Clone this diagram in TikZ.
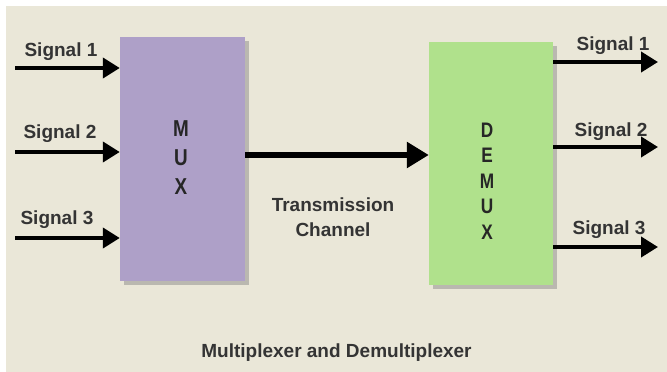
\documentclass[tikz,border=0pt]{standalone}
\usepackage{graphicx}
\usepackage{fontspec}
\setmainfont{Liberation Sans}
\usetikzlibrary{positioning,arrows.meta,shadows}
\definecolor{bgbeige}{RGB}{234,231,216}
\definecolor{muxpurple}{RGB}{174,160,200}
\definecolor{demuxgreen}{RGB}{176,225,140}
\definecolor{txtgray}{RGB}{52,52,52}
\newcommand\narrowch[1]{\scalebox{.82}[1]{#1}}

\begin{document}
\begin{tikzpicture}[x=1pt,y=-1pt,
    sig/.style={line width=4pt,-{Triangle[length=17pt,width=20pt]}},
    chan/.style={line width=6.5pt,-{Triangle[length=22pt,width=25pt]}},
    lbl/.style={font=\fontsize{19}{25}\selectfont\bfseries,text=txtgray,inner sep=0pt},
    blk/.style={minimum width=125pt,minimum height=244pt,inner sep=0pt,
      drop shadow={shadow xshift=4pt,shadow yshift=-4pt,opacity=.45}},
    letters/.style={font=\fontsize{23}{29}\selectfont\bfseries,text=black!85,align=center,inner sep=0pt}]
  % page strip and background
  \fill[white] (0,0) rectangle (667,372);
  \fill[bgbeige] (6,6) rectangle (667,372);

  % blocks
  \node[blk,fill=muxpurple] (mux) at (182.5,159) {};
  \node[blk,fill=demuxgreen,minimum width=124pt,minimum height=243pt] (demux) at (491,163.5) {};
  \node[letters] (muxtxt) at (181,158) {\narrowch{M}\\\narrowch{U}\\\narrowch{X}};
  \node[letters,font=\fontsize{21}{25.5}\selectfont\bfseries] (demuxtxt) at (487,181)
    {\narrowch{D}\\\narrowch{E}\\\narrowch{M}\\\narrowch{U}\\\narrowch{X}};

  % inputs
  \coordinate (in1) at (15,68);
  \coordinate (in2) at (15,152);
  \coordinate (in3) at (15,238);
  \draw[sig] (in1) -- (in1 -| mux.west);
  \draw[sig] (in2) -- (in2 -| mux.west);
  \draw[sig] (in3) -- (in3 -| mux.west);
  \node[lbl,anchor=base] (lin1) at (61,56) {Signal 1};
  \node[lbl,anchor=base] (lin2) at (60,138) {Signal 2};
  \node[lbl,anchor=base] (lin3) at (57,224) {Signal 3};

  % outputs
  \coordinate (out1) at (658,62);
  \coordinate (out2) at (658,147);
  \coordinate (out3) at (658,247);
  \draw[sig] (out1 -| demux.east) -- (out1);
  \draw[sig] (out2 -| demux.east) -- (out2);
  \draw[sig] (out3 -| demux.east) -- (out3);
  \node[lbl,anchor=base] (lout1) at (613,50) {Signal 1};
  \node[lbl,anchor=base] (lout2) at (611,136) {Signal 2};
  \node[lbl,anchor=base] (lout3) at (609,234) {Signal 3};

  % channel
  \coordinate (ch) at (0,155);
  \draw[chan] (ch -| mux.east) -- (ch -| demux.west);
  \node[lbl,align=center] (chtxt) at (333,217) {Transmission\\Channel};

  \node[lbl,anchor=base] (caption) at (336.5,357) {Multiplexer and Demultiplexer};
\end{tikzpicture}
\end{document}
